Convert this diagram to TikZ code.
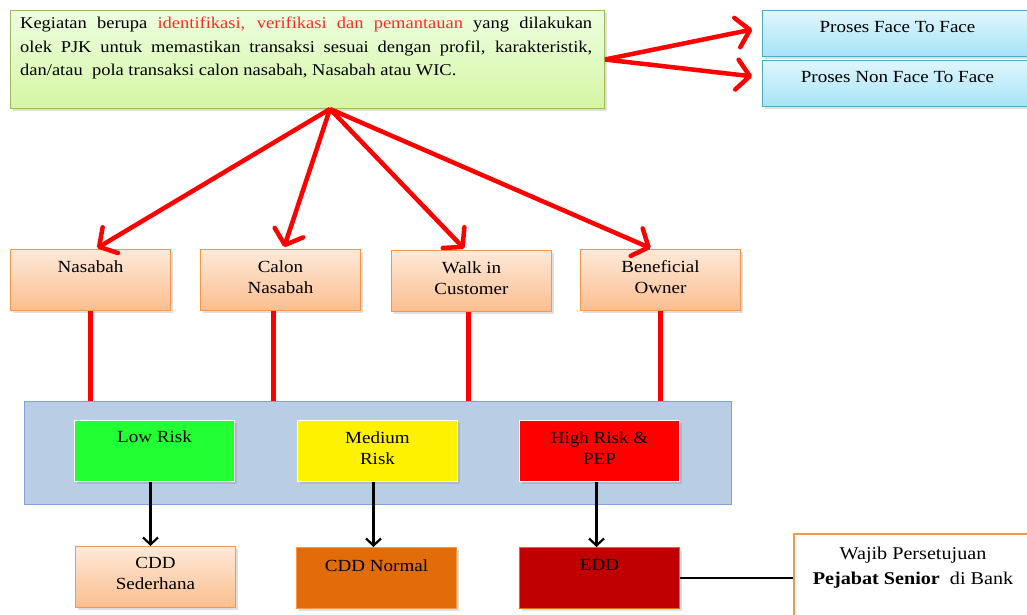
\documentclass[tikz,border=0pt]{standalone}
\usepackage{fontspec}
\setmainfont{Liberation Serif}[FakeStretch=1.12]
\usetikzlibrary{arrows.meta,shadows,positioning}

\definecolor{txtred}{HTML}{FF2A2A}
\definecolor{grnline}{HTML}{9BBB59}
\definecolor{cyanline}{HTML}{4BACC6}
\definecolor{orgline}{HTML}{F79646}
\definecolor{panelfill}{HTML}{B9CDE5}
\definecolor{panelline}{HTML}{7FA3D8}

\tikzset{
  shad/.style={drop shadow={opacity=0.25,shadow xshift=2pt,shadow yshift=-2pt}},
  infobox/.style={draw=grnline,line width=1pt,top color=green!8!white!95!yellow,bottom color={rgb,255:red,214;green,245;blue,164},shad},
  procbox/.style={draw=cyanline,line width=1pt,top color={rgb,255:red,224;green,246;blue,253},bottom color={rgb,255:red,166;green,227;blue,247},shad,minimum width=270pt,minimum height=46pt,anchor=north west},
  whobox/.style={draw=orgline,line width=1pt,top color={rgb,255:red,253;green,233;blue,217},bottom color={rgb,255:red,251;green,190;blue,142},shad,minimum width=160pt,minimum height=61pt,anchor=north west},
  riskbox/.style={draw=white,line width=1pt,minimum width=160pt,minimum height=61pt,anchor=north west,shad},
  lbl/.style={align=center,font=\fontsize{17}{21.5}\selectfont,inner sep=0pt,anchor=north},
  redarr/.style={red,line width=4.5pt,-{Straight Barb[length=13pt,width=30pt,round]}},
  redline/.style={red,line width=4.5pt},
  blkarr/.style={black,line width=2.2pt,-{Straight Barb[length=7pt,width=15pt]}}
}

\begin{document}
\begin{tikzpicture}[x=1pt,y=-1pt]
\useasboundingbox (0,0) rectangle (1027,614);
\clip (0,0) rectangle (1027,614);

% top description
\node[infobox,anchor=north west,minimum width=594pt,minimum height=98pt] (info) at (10,10) {};
\node[anchor=north west,inner sep=0pt,text width=572pt,align=justify,font=\fontsize{16.5}{23.5}\selectfont] (infotxt) at (20,17)
  {Kegiatan berupa \textcolor{txtred}{identifikasi, verifikasi dan pemantauan} yang dilakukan\linebreak
   olek PJK untuk memastikan transaksi sesuai dengan profil, karakteristik,\linebreak
   dan/atau\ \ pola transaksi calon nasabah, Nasabah atau WIC.};

% process boxes
\node[procbox] (f2f) at (762,10) {};
\node[lbl,below=11pt of f2f.north] {Proses Face To Face};
\node[procbox] (nf2f) at (762,60) {};
\node[lbl,below=11pt of nf2f.north] {Proses Non Face To Face};

% parties
\node[whobox] (nas) at (10,249) {};
\node[lbl,below=11pt of nas.north] {Nasabah};
\node[whobox] (cal) at (200,249) {};
\node[lbl,below=11pt of cal.north] {Calon\\Nasabah};
\node[whobox] (wic) at (391,250) {};
\node[lbl,below=11pt of wic.north] {Walk in\\Customer};
\node[whobox] (ben) at (580,249) {};
\node[lbl,below=11pt of ben.north] {Beneficial\\Owner};

% risk panel
\node[draw=panelline,fill=panelfill,line width=1pt,anchor=north west,minimum width=707pt,minimum height=103pt] (panel) at (24,401) {};
\node[riskbox,fill={rgb,255:red,34;green,255;blue,51}] (low) at (74,420) {};
\node[lbl,below=10pt of low.north] {Low Risk};
\node[riskbox,fill=yellow] (med) at (297,420) {};
\node[lbl,below=11pt of med.north] {Medium\\Risk};
\node[riskbox,fill=red] (high) at (519,420) {};
\node[lbl,below=11pt of high.north] {High Risk \&\\PEP};

% due diligence
\node[whobox] (cdds) at (75,546) {};
\node[lbl,below=11pt of cdds.north] {CDD\\Sederhana};
\node[riskbox,draw=orgline,fill={rgb,255:red,227;green,108;blue,10}] (cddn) at (296,547) {};
\node[lbl,below=12pt of cddn.north] {CDD Normal};
\node[riskbox,draw={rgb,255:red,227;green,108;blue,10},fill={rgb,255:red,192;green,0;blue,0}] (edd) at (519,547) {};
\node[lbl,below=12pt of edd.north] {EDD};

\node[draw=orgline,line width=2pt,fill=white,anchor=north west,minimum width=238pt,minimum height=100pt] (senior) at (793,533) {};
\node[lbl,font=\fontsize{18}{25}\selectfont,below=14pt of senior.north] {Wajib Persetujuan\\\textbf{Pejabat Senior}\ \ di Bank};

% red arrows
\coordinate (hub) at (330,109);
\draw[redarr,shorten >=10pt] (info.east) -- ([yshift=6pt]f2f.west);
\draw[redarr,shorten >=10pt] (info.east) -- ([yshift=6pt]nf2f.west);
\draw[redarr,shorten >=2pt] (hub) -- ([xshift=5pt]nas.north);
\draw[redarr,shorten >=2pt] (hub) -- ([xshift=3pt]cal.north);
\draw[redarr,shorten >=2pt] (hub) -- ([xshift=-6pt]wic.north);
\draw[redarr,shorten >=2pt] (hub) -- ([xshift=-8pt]ben.north);

% links to risk panel
\draw[redline] (nas.south) -- (nas.south |- panel.north);
\draw[redline] ([xshift=-7pt]cal.south) -- ([xshift=-7pt]cal.south |- panel.north);
\draw[redline] ([xshift=-3pt]wic.south) -- ([xshift=-3pt]wic.south |- panel.north);
\draw[redline] (ben.south) -- (ben.south |- panel.north);

% black arrows
\draw[blkarr] ([xshift=-4pt]low.south) -- ([xshift=-5pt]cdds.north);
\draw[blkarr] ([xshift=-4pt]med.south) -- ([xshift=-3pt]cddn.north);
\draw[blkarr] ([xshift=-3pt]high.south) -- ([xshift=-3pt]edd.north);
\draw[black,line width=2pt] (edd.east) -- (senior.west |- edd.east);

\end{tikzpicture}
\end{document}
